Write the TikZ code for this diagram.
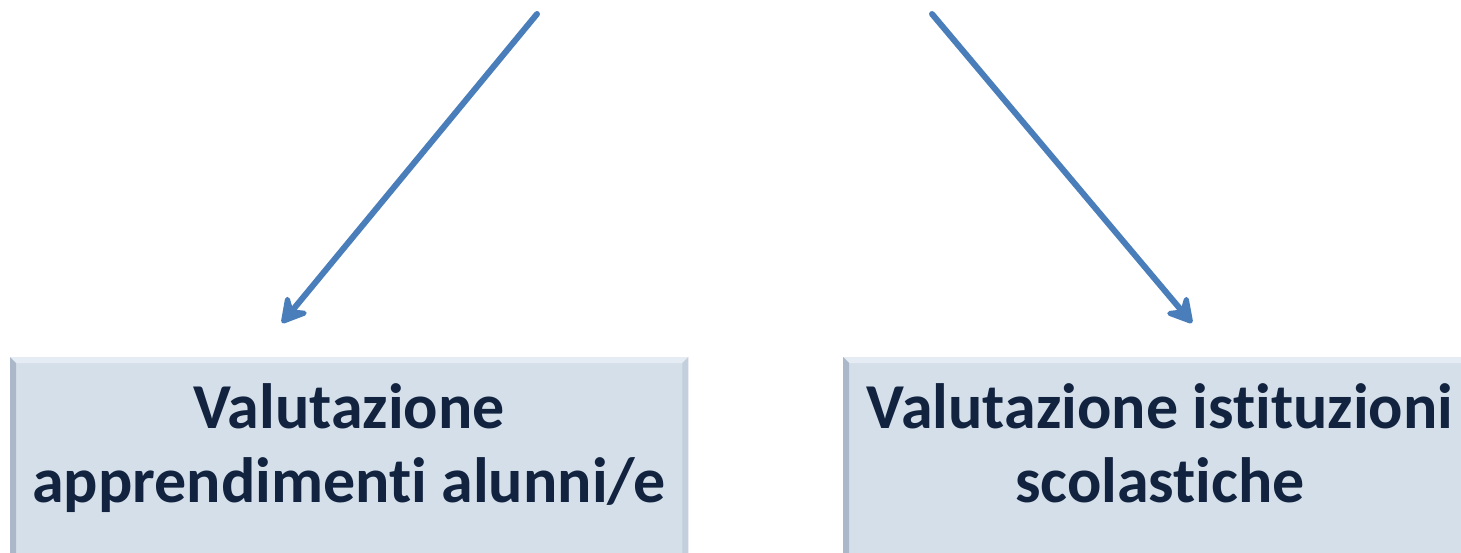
\documentclass[tikz,border=0pt]{standalone}
\usepackage{fontspec}
\setmainfont{Carlito}[Ligatures={NoCommon}]
\usetikzlibrary{arrows.meta,positioning}
\definecolor{arrowblue}{HTML}{4A7EBB}
\definecolor{boxfill}{HTML}{D5DFEA}
\definecolor{boxlight}{HTML}{E6ECF4}
\definecolor{boxdark}{HTML}{AAB8C9}
\definecolor{boxside}{HTML}{C3CFDD}
\definecolor{textnavy}{HTML}{12233F}
\tikzset{
  bevelbox/.style={fill=boxfill, inner sep=0pt, anchor=north west},
  boxlabel/.style={text=textnavy, font=\fontsize{64}{74}\selectfont\bfseries, align=center, anchor=base},
  flowarrow/.style={draw=arrowblue, line width=6pt, -{Stealth[length=32pt, width=36pt, inset=12pt, round]}}
}
\newcommand{\bevel}[1]{%
  \fill[boxlight] (#1.north west) -- (#1.north east) -- ([shift={(-6,-6)}]#1.north east) -- ([shift={(6,-6)}]#1.north west) -- cycle;
  \fill[boxdark] (#1.north west) -- ([shift={(6,-6)}]#1.north west) -- ([shift={(6,6)}]#1.south west) -- (#1.south west) -- cycle;
  \fill[boxside] (#1.north east) -- ([shift={(-6,-6)}]#1.north east) -- ([shift={(-6,6)}]#1.south east) -- (#1.south east) -- cycle;
}
\begin{document}
\begin{tikzpicture}[x=1pt, y=1pt, line cap=round, line join=round]
	\useasboundingbox (0,0) rectangle (1461,552);
	% boxes
	\node[bevelbox, minimum width=678pt, minimum height=210pt] (pupils) at (10,195) {};
	\node[bevelbox, minimum width=634pt, minimum height=210pt] (schools) at (843,195) {};
	\bevel{pupils}
	\bevel{schools}
	\node[boxlabel] (pupilstext) at (349,50) {Valutazione\\apprendimenti alunni/e};
	\node[boxlabel] (schoolstext) at (1160,50) {Valutazione istituzioni\\scolastiche};
	% arrows
	\coordinate (leftstart) at (537,538);
	\coordinate (lefttip) at (282,229);
	\coordinate (rightstart) at (932,538);
	\coordinate (righttip) at (1192,229);
	\draw[flowarrow] (leftstart) -- (lefttip);
	\draw[flowarrow] (rightstart) -- (righttip);
\end{tikzpicture}
\end{document}
